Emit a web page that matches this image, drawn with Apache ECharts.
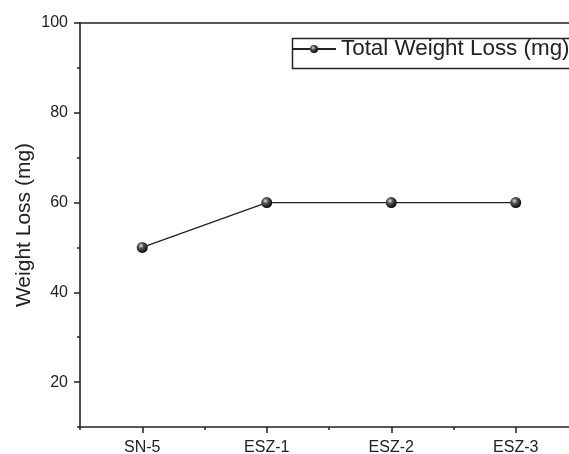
<!DOCTYPE html>
<html>
<head>
<meta charset="utf-8">
<script src="https://cdn.jsdelivr.net/npm/echarts@6/dist/echarts.min.js"></script>
<style>
  html, body { margin: 0; padding: 0; background: #fff; }
  #chart { width: 569px; height: 454px; }
</style>
</head>
<body>
<div id="chart"></div>
<script>
// Samples and their total weight loss
const categories = ['SN-5', 'ESZ-1', 'ESZ-2', 'ESZ-3'];
const weightLoss = [50, 60, 60, 60];
const seriesName = 'Total Weight Loss (mg)';
const yTitle = 'Weight Loss (mg)';
const yMajorTicks = [20, 40, 60, 80, 100];
const yMinorTicks = [10, 30, 50, 70, 90];

const FONT = '"Liberation Sans", Arial, sans-serif';
const INK = '#222';
const axisLine = { show: true, lineStyle: { color: INK, width: 1.6 } };

// shaded ball marker
const ball = {
  type: 'radial', x: 0.38, y: 0.35, r: 0.7,
  colorStops: [
    { offset: 0, color: '#e6e6e6' },
    { offset: 0.35, color: '#555' },
    { offset: 1, color: '#000' }
  ]
};

const chart = echarts.init(document.getElementById('chart'), null, { renderer: 'canvas' });
chart.setOption({
  animation: false,
  backgroundColor: '#fff',
  // plot area runs past the right edge of the page
  grid: { left: 80, top: 23, width: 498, height: 404, containLabel: false, outerBoundsMode: 'none' },
  graphic: [
    {
      type: 'rect', left: 290, top: 36, z: 100,
      shape: { width: 320, height: 30 },
      style: { fill: 'none', stroke: INK, lineWidth: 1.5 }
    }
  ],
  legend: {
    left: 291, top: 38,
    padding: [0, 0, 0, 0],
    itemWidth: 44, itemHeight: 10, itemGap: 5,
    textStyle: { fontFamily: FONT, fontSize: 22.4, color: INK },
    data: [seriesName]
  },
  xAxis: [
    {
      type: 'category', data: categories, position: 'bottom', boundaryGap: true,
      axisLine: axisLine,
      axisTick: { show: true, alignWithLabel: true, length: 6, lineStyle: { color: INK, width: 1.5 } },
      axisLabel: { fontFamily: FONT, fontSize: 16, color: INK, margin: 13 },
      splitLine: { show: false }
    },
    {
      // minor ticks between samples
      type: 'category', data: categories, position: 'bottom', boundaryGap: true,
      axisLine: { show: false },
      axisTick: { show: true, length: 3, lineStyle: { color: INK, width: 1.5 } },
      axisLabel: { show: false },
      splitLine: { show: false }
    },
    {
      // top frame
      type: 'category', data: categories, position: 'top', boundaryGap: true,
      axisLine: axisLine, axisTick: { show: false }, axisLabel: { show: false },
      splitLine: { show: false }
    }
  ],
  yAxis: [
    {
      type: 'value', min: 10, max: 100, position: 'left',
      name: yTitle, nameLocation: 'middle', nameGap: 45, nameRotate: 90,
      nameMoveOverlap: false,
      nameTextStyle: { fontFamily: FONT, fontSize: 21, color: INK },
      axisLine: axisLine,
      axisTick: { show: true, length: 6, customValues: yMajorTicks, lineStyle: { color: INK, width: 1.5 } },
      axisLabel: { fontFamily: FONT, fontSize: 16, color: INK, margin: 12, customValues: yMajorTicks },
      splitLine: { show: false }
    },
    {
      type: 'value', min: 10, max: 100, position: 'left',
      axisLine: { show: false },
      axisTick: { show: true, length: 3, customValues: yMinorTicks, lineStyle: { color: INK, width: 1.5 } },
      axisLabel: { show: false },
      splitLine: { show: false }
    }
  ],
  series: [
    {
      name: seriesName, type: 'line', data: weightLoss,
      xAxisIndex: 0, yAxisIndex: 0,
      symbol: 'circle', symbolSize: 11,
      itemStyle: { color: ball, borderWidth: 0 },
      lineStyle: { color: INK, width: 1.3 },
      z: 5
    }
  ]
});
</script>
</body>
</html>
